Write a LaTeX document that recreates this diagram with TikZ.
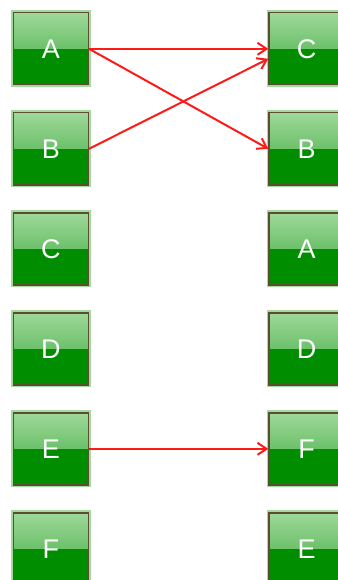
\documentclass[tikz,border=0pt]{standalone}
\usepackage{fontspec}
\setmainfont{Liberation Sans}
\usetikzlibrary{arrows.meta}
\definecolor{bgreen}{HTML}{008E00}
\definecolor{topgreen}{HTML}{9ED89A}
\definecolor{midgreen}{HTML}{3AAA3A}
\definecolor{glow}{HTML}{A6D9A0}
\definecolor{boxborder}{HTML}{5A4E2E}
\definecolor{arrowred}{HTML}{FF1A1A}
\tikzset{
  btn/.style={draw=boxborder, line width=1.4pt, minimum width=75pt, minimum height=72pt,
    inner sep=0pt, fill=bgreen, text=white, font=\fontsize{27}{27}\selectfont,
    preaction={draw=glow, line width=5pt, rounded corners=2pt},
    path picture={\shade[top color=topgreen, bottom color=midgreen]
      (path picture bounding box.north west) rectangle (path picture bounding box.east);}},
  link/.style={draw=arrowred, line width=2pt, -{Straight Barb[length=9pt,width=12pt,line width=2pt]}}
}
\begin{document}
\begin{tikzpicture}[x=1pt,y=-1pt]
\useasboundingbox (0,0) rectangle (337,580);
\foreach \n/\t [count=\i from 0] in {la/A,lb/B,lc/C,ld/D,le/E,lf/F}
  \node[btn] (\n) at (50.8,48.8+100*\i) {\t};
\foreach \n/\t [count=\i from 0] in {rc/C,rb/B,ra/A,rd/D,rf/F,re/E}
  \node[btn] (\n) at (306.5,48.8+100*\i) {\t};
\path[link] (la.east) -- (rc.west);
\path[link] (la.east) -- (rb.west);
\path[link] (lb.east) -- ([yshift=-10pt]rc.west);
\path[link] (le.east) -- (rf.west);
\end{tikzpicture}
\end{document}
